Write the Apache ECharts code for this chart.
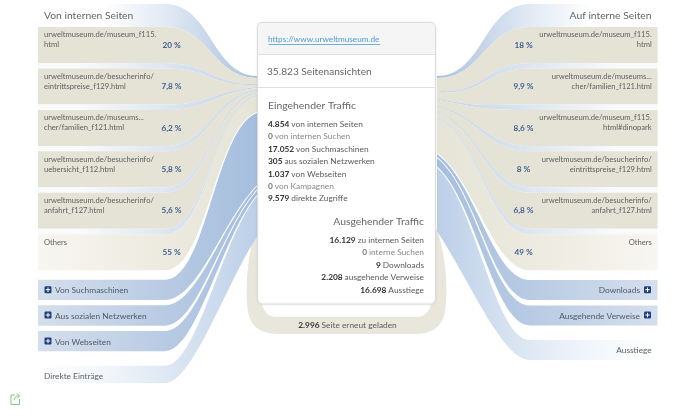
<!DOCTYPE html>
<html>
<head>
<meta charset="utf-8">
<style>
html, body { margin: 0; padding: 0; background: #fff; }
#main { width: 700px; height: 420px; }
</style>
</head>
<body>
<div id="main"></div>
<script src="https://cdn.jsdelivr.net/npm/echarts@6/dist/echarts.min.js"></script>
<script>
var leftPages = ['urweltmuseum.de/museum_f115.\nhtml', 'urweltmuseum.de/besucherinfo/\neintrittspreise_f129.html', 'urweltmuseum.de/museums...\ncher/familien_f121.html', 'urweltmuseum.de/besucherinfo/\nuebersicht_f112.html', 'urweltmuseum.de/besucherinfo/\nanfahrt_f127.html', 'Others'];
var leftShares = [20, 7.8, 6.2, 5.8, 5.6, 55];
var rightPages = ['urweltmuseum.de/museum_f115.\nhtml', 'urweltmuseum.de/museums...\ncher/familien_f121.html', 'urweltmuseum.de/museum_f115.\nhtml#dinopark', 'urweltmuseum.de/besucherinfo/\neintrittspreise_f129.html', 'urweltmuseum.de/besucherinfo/\nanfahrt_f127.html', 'Others'];
var rightShares = [18, 9.9, 8.6, 8, 6.8, 49];

var inLabels = ['von internen Seiten', 'von internen Suchen', 'von Suchmaschinen', 'aus sozialen Netzwerken', 'von Webseiten', 'von Kampagnen', 'direkte Zugriffe'];
var inValues = [4854, 0, 17052, 305, 1037, 0, 9579];
var outLabels = ['zu internen Seiten', 'interne Suchen', 'Downloads', 'ausgehende Verweise', 'Ausstiege'];
var outValues = [16129, 0, 9, 2208, 16698];
var reloads = 2996;
var pageViews = 35823;
var pageUrl = 'https://www.urweltmuseum.de';

// layout
var FONT = 'Lato, "Open Sans", sans-serif';
var rowTops = [27, 68.6, 110, 151.3, 192.7, 234.2];
var rowH = 36;
var L = { outer: 38, curve: 165, end: 258, fanTop: 78, fanPx: 28.5, flowTop: 112.5, scale: 0.0042 };
var R = { outer: 657.5, curve: 530, end: 437, fanTop: 78, fanPx: 70, flowTop: 154, scale: 0.0038 };

function fmt(v) {
    return String(v).replace(/\B(?=(\d{3})+$)/g, '.');
}
function pct(v) {
    return String(v).replace('.', ',') + ' %';
}

function grad(side, stops) {
    return new echarts.graphic.LinearGradient(side.outer, 0, side.end, 0, stops, true);
}

var BEIGE = '#e5e2d6';
var bands = [];

function addBand(side, top, bottom, cTop, cBottom, fill) {
    bands.push({ side: side, top: top, bottom: bottom, cTop: cTop, cBottom: cBottom, fill: fill });
}

function buildSide(side, shares, blocks) {
    var total = 0;
    shares.forEach(function (s) { total += s; });
    var y = side.fanTop;

    // blauer Streifen ueber der ersten Zeile
    addBand(side, 4, rowTops[0], y - 2, y, grad(side, [
        { offset: 0.3, color: '#ffffff' }, { offset: 0.6, color: '#dfe8f3' }, { offset: 1, color: '#a9c1df' }
    ]));

    shares.forEach(function (s, i) {
        var h = s / total * side.fanPx;
        var fill = i < shares.length - 1 ? BEIGE : grad(side, [
            { offset: 0, color: '#f8f6f1' }, { offset: 0.6, color: '#ece9de' }, { offset: 1, color: '#e6e3d7' }
        ]);
        addBand(side, rowTops[i], rowTops[i] + rowH, y, y + h, fill);
        y += h;
        if (i < shares.length - 1) {
            addBand(side, rowTops[i] + rowH, rowTops[i + 1], y, y + 1, grad(side, [
                { offset: 0.2, color: '#f8fafc' }, { offset: 0.6, color: '#dbe5f1' }, { offset: 1, color: '#c3d4e8' }
            ]));
            y += 1;
        }
    });

    y = side.flowTop;
    blocks.forEach(function (b) {
        var h = Math.max(b.value * side.scale, 3);
        addBand(side, b.top, b.bottom, y, y + h, grad(side, b.stops));
        y += h + 1.2;
    });
}

var strong = [{ offset: 0, color: '#d5dfec' }, { offset: 0.6, color: '#b7cae3' }, { offset: 1, color: '#a5bede' }];
var faint = [{ offset: 0, color: '#ffffff' }, { offset: 0.3, color: '#f2f6fb' }, { offset: 0.6, color: '#dde7f3' }, { offset: 1, color: '#bbcfe8' }];

buildSide(L, leftShares, [
    { value: inValues[2], top: 279.7, bottom: 300, stops: strong },
    { value: inValues[3], top: 305.3, bottom: 325.7, stops: strong },
    { value: inValues[4], top: 331, bottom: 351.3, stops: strong },
    { value: inValues[6], top: 365.7, bottom: 383, stops: faint }
]);
buildSide(R, rightShares, [
    { value: outValues[2], top: 280, bottom: 300, stops: strong },
    { value: outValues[3], top: 305.5, bottom: 325.5, stops: strong },
    { value: outValues[4], top: 340, bottom: 360, stops: faint }
]);

function coord(api, x, y) {
    return api.coord([x, y]);
}

// Kurve vom Zeilenende zur Karte, unten immer steiler
function curveTo(api, side, y0, y1, forward) {
    var dx = side.end - side.curve;
    var n = Math.min(Math.max((y1 - 78) / 155, 0), 1);
    var a = 0.5 - 0.2 * n;
    var b = 0.5 - 0.15 * n;
    var slope = 1.5 * n;
    var p1 = coord(api, side.curve + dx * a, y0);
    var p2 = coord(api, side.end - dx * b, y1 + Math.abs(dx) * b * slope);
    if (forward) {
        var e = coord(api, side.end, y1);
        return ['C', p1[0], p1[1], p2[0], p2[1], e[0], e[1]].join(' ');
    }
    var s = coord(api, side.curve, y0);
    return ['C', p2[0], p2[1], p1[0], p1[1], s[0], s[1]].join(' ');
}

function renderBand(params, api) {
    var b = bands[params.dataIndex];
    var s = b.side;
    var a = coord(api, s.outer, b.top);
    var c = coord(api, s.curve, b.top);
    var e = coord(api, s.end, b.cBottom);
    var o = coord(api, s.outer, b.bottom);
    var d = 'M ' + a[0] + ' ' + a[1] + ' L ' + c[0] + ' ' + c[1] + ' ' +
        curveTo(api, s, b.top, b.cTop, true) +
        ' L ' + e[0] + ' ' + e[1] + ' ' +
        curveTo(api, s, b.bottom, b.cBottom, false) +
        ' L ' + o[0] + ' ' + o[1] + ' Z';
    return {
        type: 'path',
        shape: { pathData: d },
        style: { fill: b.fill }
    };
}

// Schleife fuer "Seite erneut geladen"
function renderLoop(params, api) {
    var th = reloads * 0.0057;
    var bottom = 334;
    var inner = bottom - th;
    return {
        type: 'group',
        children: [{
            type: 'path',
            shape: {
                pathData: 'M 257 228 C 247 250 244 298 249 316 C 253 329 264 ' + bottom + ' 278 ' + bottom +
                    ' L 415 ' + bottom + ' C 429 ' + bottom + ' 440 329 444 316 C 449 298 446 250 436 228 Z'
            },
            style: { fill: '#e9e6db' }
        }, {
            type: 'path',
            shape: {
                pathData: 'M 258 298 L 262 304 C 264 312 268 ' + inner + ' 277 ' + inner +
                    ' L 416 ' + inner + ' C 425 ' + inner + ' 429 312 431 304 L 435 298 Z'
            },
            style: { fill: '#fff' }
        }]
    };
}

function label(x, y, text, opt) {
    opt = opt || {};
    return {
        type: 'text',
        x: x,
        y: y,
        z: opt.z || 20,
        style: {
            text: text,
            fill: opt.color || '#5f5f5f',
            font: (opt.weight || 400) + ' ' + (opt.size || 7.6) + 'px ' + FONT,
            lineHeight: 10,
            align: opt.align || 'left',
            verticalAlign: 'middle',
            rich: opt.rich
        }
    };
}

function plusIcon(cx, cy) {
    return [
        { type: 'rect', z: 20, shape: { x: cx - 3.5, y: cy - 3.5, width: 7, height: 7, r: 1.2 }, style: { fill: '#1d3f7e' } },
        { type: 'rect', z: 21, shape: { x: cx - 2.2, y: cy - 0.5, width: 4.4, height: 1 }, style: { fill: '#fff' } },
        { type: 'rect', z: 21, shape: { x: cx - 0.5, y: cy - 2.2, width: 1, height: 4.4 }, style: { fill: '#fff' } }
    ];
}

function richLine(value, text) {
    return '{' + (value === 0 ? 'z' : 'b') + '|' + fmt(value) + '} {' + (value === 0 ? 'g' : 't') + '|' + text + '}';
}
var lineRich = {
    b: { font: '700 8.35px ' + FONT, fill: '#333' },
    t: { font: '400 8.35px ' + FONT, fill: '#5a5a5a' },
    z: { font: '700 8.35px ' + FONT, fill: '#777' },
    g: { font: '400 8.35px ' + FONT, fill: '#888' }
};

var elements = [];

// Karte
elements.push({ type: 'rect', z: 10, shape: { x: 257.5, y: 22.5, width: 178, height: 281.5, r: 5 }, style: { fill: '#fff', stroke: '#dcdcdc', lineWidth: 1, shadowBlur: 2, shadowColor: 'rgba(0,0,0,0.08)' } });
elements.push({ type: 'rect', z: 11, shape: { x: 258, y: 23, width: 177, height: 31, r: [5, 5, 0, 0] }, style: { fill: '#f5f5f5' } });
elements.push({ type: 'line', z: 12, shape: { x1: 258, y1: 54.5, x2: 435, y2: 54.5 }, style: { stroke: '#e0e0e0', lineWidth: 1 } });
elements.push({ type: 'line', z: 12, shape: { x1: 258, y1: 87.5, x2: 435, y2: 87.5 }, style: { stroke: '#e0e0e0', lineWidth: 1 } });
elements.push(label(268, 39, pageUrl, { color: '#4b9ed6', size: 8.2 }));
elements.push({ type: 'line', z: 20, shape: { x1: 268.5, y1: 44.5, x2: 380, y2: 44.5 }, style: { stroke: '#4b9ed6', lineWidth: 0.8 } });
elements.push(label(267, 71.7, fmt(pageViews) + ' Seitenansichten', { size: 10.15, color: '#666' }));
elements.push(label(268, 106, 'Eingehender Traffic', { size: 10.4, color: '#666' }));
elements.push(label(424, 221.7, 'Ausgehender Traffic', { size: 10.4, color: '#666', align: 'right' }));

inLabels.forEach(function (t, i) {
    elements.push(label(268, 124 + i * 12.45, richLine(inValues[i], t), { rich: lineRich }));
});
outLabels.forEach(function (t, i) {
    elements.push(label(424, 240 + i * 12.5, richLine(outValues[i], t), { rich: lineRich, align: 'right' }));
});
elements.push(label(347.5, 325.7, richLine(reloads, 'Seite erneut geladen'), { rich: lineRich, align: 'center' }));

// Ueberschriften
elements.push(label(44, 16, 'Von internen Seiten', { size: 10.3, color: '#666' }));
elements.push(label(651.5, 16, 'Auf interne Seiten', { size: 10.3, color: '#666', align: 'right' }));

// Seitenzeilen
leftPages.forEach(function (t, i) {
    var top = rowTops[i] + (i === 5 ? 8 : 13);
    elements.push(label(44, top, t, { align: 'left' }));
    elements.push(label(171.5, rowTops[i] + 18, pct(leftShares[i]), { color: '#3e5f8f', weight: 700, size: 8.2, align: 'center' }));
});
rightPages.forEach(function (t, i) {
    var top = rowTops[i] + (i === 5 ? 8 : 13);
    elements.push(label(651.7, top, t, { align: 'right' }));
    elements.push(label(523.5, rowTops[i] + 18, pct(rightShares[i]), { color: '#3e5f8f', weight: 700, size: 8.2, align: 'center' }));
});

// Bloecke
['Von Suchmaschinen', 'Aus sozialen Netzwerken', 'Von Webseiten'].forEach(function (t, i) {
    var y = [290.7, 316, 342][i];
    elements.push(label(55, y, t, { size: 8.35, color: '#4f5a6b' }));
    elements = elements.concat(plusIcon(48, y - 1));
});
elements.push(label(44, 376, 'Direkte Einträge', { size: 8.3 }));
['Downloads', 'Ausgehende Verweise'].forEach(function (t, i) {
    var y = [290.7, 316][i];
    elements.push(label(640, y, t, { size: 8.35, color: '#4f5a6b', align: 'right' }));
    elements = elements.concat(plusIcon(647.5, y - 1));
});
elements.push(label(651.7, 350.7, 'Ausstiege', { size: 8.3, align: 'right' }));

// Teilen-Symbol
elements.push({ type: 'polyline', z: 20, shape: { points: [[15, 395], [11, 395], [11, 404.5], [19.5, 404.5], [19.5, 399]] }, style: { fill: 'none', stroke: '#82c785', lineWidth: 1 } });
elements.push({ type: 'polyline', z: 20, shape: { points: [[14.5, 400], [15, 397.5], [16.5, 396], [19, 396]] }, style: { fill: 'none', stroke: '#82c785', lineWidth: 1 } });
elements.push({ type: 'polyline', z: 20, shape: { points: [[17, 393.5], [19.5, 396], [17, 398.5]] }, style: { fill: 'none', stroke: '#82c785', lineWidth: 1 } });

var option = {
    animation: false,
    backgroundColor: '#fff',
    grid: { left: 0, right: 0, top: 0, bottom: 0 },
    xAxis: { type: 'value', min: 0, max: 700, show: false },
    yAxis: { type: 'value', min: 0, max: 420, inverse: true, show: false },
    graphic: elements,
    series: [
        { type: 'custom', coordinateSystem: 'cartesian2d', silent: true, z: 1, renderItem: renderLoop, data: [[reloads]] },
        { type: 'custom', coordinateSystem: 'cartesian2d', silent: true, z: 2, renderItem: renderBand, data: bands.map(function (b, i) { return [i]; }) }
    ]
};

var chart = echarts.init(document.getElementById('main'));
chart.setOption(option);
</script>
</body>
</html>
